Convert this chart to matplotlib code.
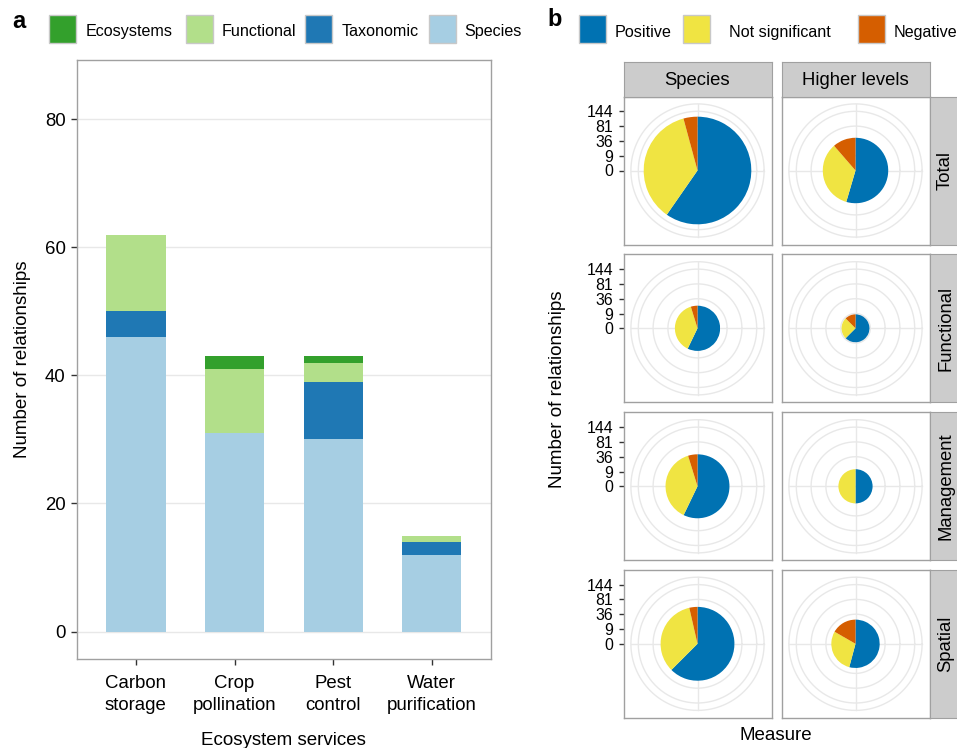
import numpy as np
import matplotlib
matplotlib.use('Agg')
import matplotlib.pyplot as plt
from matplotlib.patches import Rectangle

plt.rcParams['font.family'] = ['Liberation Sans', 'DejaVu Sans']

# ---------------- Panel a data ----------------
services = ['Carbon\nstorage', 'Crop\npollination', 'Pest\ncontrol', 'Water\npurification']
level_names = ['Ecosystems', 'Functional', 'Taxonomic', 'Species']
species_counts = [46, 31, 30, 12]
taxonomic_counts = [4, 0, 9, 2]
functional_counts = [12, 10, 3, 1]
ecosystems_counts = [0, 2, 1, 0]
y_ticks_a = [0, 20, 40, 60, 80]

# ---------------- Panel b data ----------------
measures = ['Species', 'Higher levels']
facets = ['Total', 'Functional', 'Management', 'Spatial']
outcome_names = ['Positive', 'Not significant', 'Negative']
species_positive = [71, 12, 24, 35]
species_notsig = [43, 8, 16, 19]
species_negative = [5, 1, 2, 2]
higher_positive = [24, 5, 6, 13]
higher_notsig = [15, 2, 6, 7]
higher_negative = [5, 1, 0, 4]
r_breaks = [0, 9, 36, 81, 144]

# ---------------- styles ----------------
level_colors = {'Ecosystems': '#33a02c', 'Functional': '#b2df8a',
                'Taxonomic': '#1f78b4', 'Species': '#a6cee3'}
outcome_colors = ['#0072B2', '#F0E442', '#D55E00']
W, H = 957, 748
FRAME = '#A0A0A0'
GRID = '#E8E8E8'
TICKC = '#333333'

fig = plt.figure(figsize=(W / 100, H / 100), dpi=100)


def px_axes(x0, y0, x1, y1, **kw):
    return fig.add_axes([x0 / W, 1 - y1 / H, (x1 - x0) / W, (y1 - y0) / H], **kw)


# ================= Panel a =================
axa = px_axes(76.8, 60, 490.8, 658.8)
x = np.arange(1, len(services) + 1)
bottom = np.zeros(len(services))
for name, vals in [('Species', species_counts), ('Taxonomic', taxonomic_counts),
                   ('Functional', functional_counts), ('Ecosystems', ecosystems_counts)]:
    axa.bar(x, vals, width=0.6, bottom=bottom, color=level_colors[name],
            edgecolor='none', zorder=2)
    bottom = bottom + np.array(vals)
axa.set_xlim(0.4, 4.6)
axa.set_ylim(-4.25, 89.25)
axa.set_yticks(y_ticks_a)
axa.set_yticklabels([str(v) for v in y_ticks_a])
axa.set_xticks(x)
axa.set_xticklabels(services, linespacing=1.4)
axa.yaxis.grid(True, color=GRID, lw=1, zorder=0)
axa.set_axisbelow(True)
for s in axa.spines.values():
    s.set_color(FRAME)
    s.set_linewidth(1)
axa.tick_params(axis='both', length=4.3, width=1, color=TICKC, labelsize=13.4,
                labelcolor='black')
axa.tick_params(axis='y', pad=3.6)
axa.tick_params(axis='x', pad=7.5)
axa.set_xlabel('Ecosystem services', fontsize=13.5, labelpad=13)
axa.set_ylabel('Number of relationships', fontsize=13.5, labelpad=10)

# legend a (manual layout of keys)
leg_a_x = [48.5, 186, 305, 428.5]
leg_a_tx = [85.5, 222, 342, 464]
for name, kx, tx in zip(level_names, leg_a_x, leg_a_tx):
    fig.patches.append(Rectangle((kx / W, 1 - 42.5 / H), 27 / W, 27 / H,
                                 transform=fig.transFigure, facecolor=level_colors[name],
                                 edgecolor='#C8C8C8', lw=1))
    fig.text(tx / W, 1 - 36.3 / H, name, fontsize=11.6, va='baseline', ha='left')
fig.text(12 / W, 1 - 27.5 / H, 'a', fontsize=17, fontweight='bold', va='baseline')

# ================= Panel b =================
leg_b_x = [579.3, 683.3, 858.3]
leg_b_tx = [615, 728.7, 894]
for name, col, kx, tx in zip(outcome_names, outcome_colors, leg_b_x, leg_b_tx):
    fig.patches.append(Rectangle((kx / W, 1 - 42.7 / H), 27 / W, 27.5 / H,
                                 transform=fig.transFigure, facecolor=col,
                                 edgecolor='#C8C8C8', lw=1))
    fig.text(tx / W, 1 - 37.3 / H, name, fontsize=11.6, va='baseline', ha='left')
fig.text(547 / W, 1 - 26.5 / H, 'b', fontsize=17, fontweight='bold', va='baseline')

species_data = list(zip(species_positive, species_notsig, species_negative))
higher_data = list(zip(higher_positive, higher_notsig, higher_negative))
col_data = [species_data, higher_data]

PW = 148.0
col_x0 = [623.5, 781.5]
row_y0 = [96.5, 254.3, 412.3, 569.8]
rmax = np.sqrt(max(r_breaks))       # r scale maps to 0.4 of panel width
half = rmax / 0.4 * 0.5             # half panel width in sqrt units
outer = rmax / 0.4 * 0.45

theta_dirs = np.deg2rad([90, 0, 270, 180])
for i, facet in enumerate(facets):
    for j, meas in enumerate(measures):
        x0, y0 = col_x0[j], row_y0[i]
        ax = px_axes(x0, y0, x0 + PW, y0 + PW)
        vals = col_data[j][i]
        total = sum(vals)
        # grid: circles at breaks and outer theta circle; theta spokes
        tt = np.linspace(0, 2 * np.pi, 361)
        for rb in list(np.sqrt(r_breaks[1:])) + [outer]:
            ax.plot(rb * np.cos(tt), rb * np.sin(tt), color=GRID, lw=1, zorder=0.5)
        for th in theta_dirs:
            ax.plot([0, outer * np.cos(th)], [0, outer * np.sin(th)], color=GRID,
                    lw=1, zorder=0.5)
        ax.pie(vals, radius=np.sqrt(total), startangle=90, counterclock=False,
               colors=outcome_colors, wedgeprops=dict(linewidth=0, zorder=2),
               frame=True)
        ax.set_xlim(-half, half)
        ax.set_ylim(-half, half)
        ax.set_aspect('auto')
        ax.set_xticks([])
        if j == 0:
            ax.set_yticks(np.sqrt(r_breaks))
            ax.set_yticklabels([str(v) for v in r_breaks])
            ax.tick_params(axis='y', length=3.6, width=1, color=TICKC,
                           labelsize=11.4, pad=4.0)
        else:
            ax.set_yticks([])
        for s in ax.spines.values():
            s.set_color(FRAME)
            s.set_linewidth(1)
        # top strip
        if i == 0:
            sax = px_axes(x0, 62, x0 + PW, y0)
            sax.set_facecolor('#CCCCCC')
            sax.set_xticks([]); sax.set_yticks([])
            for s in sax.spines.values():
                s.set_color(FRAME)
            sax.text(0.5, 0.45, meas, transform=sax.transAxes, ha='center',
                     va='center', fontsize=13.3)
    # right strip
    rax = px_axes(col_x0[1] + PW, row_y0[i], col_x0[1] + PW + 32, row_y0[i] + PW)
    rax.set_facecolor('#CCCCCC')
    rax.set_xticks([]); rax.set_yticks([])
    for s in rax.spines.values():
        s.set_color(FRAME)
    rax.text(0.5, 0.5, facet, transform=rax.transAxes, ha='center', va='center',
             rotation=90, fontsize=13.3)

fig.text(557 / W, 1 - 389.5 / H, 'Number of relationships', rotation=90,
         ha='center', va='center', fontsize=13.5)
fig.text(776 / W, 1 - 736 / H, 'Measure', ha='center', va='center', fontsize=13.5)

fig.savefig('out.png', dpi=100)
